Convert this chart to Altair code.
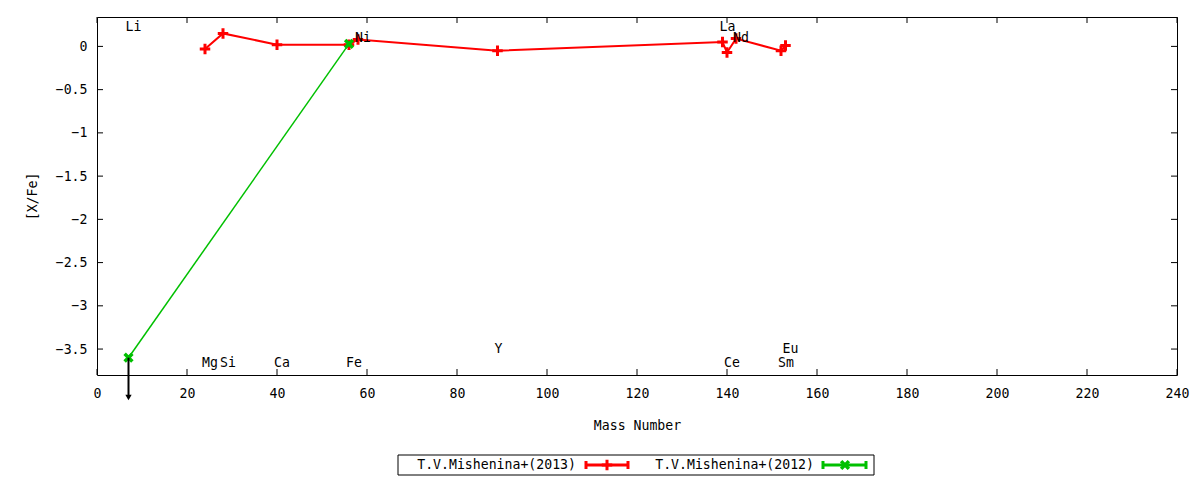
import altair as alt
import pandas as pd

# ---- data ----
mass_2013 = [24, 28, 40, 56, 58, 89, 139, 140, 142, 152, 153]
xfe_2013 = [-0.03, 0.15, 0.02, 0.02, 0.08, -0.05, 0.05, -0.07, 0.09, -0.05, 0.01]
mass_2012 = [7, 56]
xfe_2012 = [-3.6, 0.03]
upper_2012 = [True, False]

elem_names = ["Li", "Mg", "Si", "Ca", "Fe", "Ni", "Y", "La", "Ce", "Nd", "Sm", "Eu"]
elem_mass = [7, 24, 28, 40, 56, 58, 89, 139, 140, 142, 152, 153]
elem_label_y = [0.22, -3.66, -3.66, -3.66, -3.66, 0.10, -3.5, 0.22, -3.66, 0.10, -3.66, -3.5]

x_ticks = [0, 20, 40, 60, 80, 100, 120, 140, 160, 180, 200, 220, 240]
y_ticks = [0, -0.5, -1, -1.5, -2, -2.5, -3, -3.5]

legend_names = ["T.V.Mishenina+(2013)", "T.V.Mishenina+(2012)"]

RED = "#ff0000"
GREEN = "#00c000"
FONT = "DejaVu Sans Mono"
FS = 13.2
W, H = 1080, 358
PLUS = "M-1,0L1,0M0,-1L0,1"
XMARK = "M-1,-1L1,1M-1,1L1,-1"

df13 = pd.DataFrame({"m": mass_2013, "v": xfe_2013, "i": range(len(mass_2013))})
df12 = pd.DataFrame({"m": mass_2012, "v": xfe_2012, "up": upper_2012, "i": range(len(mass_2012))})
dfl = pd.DataFrame({"m": elem_mass, "v": elem_label_y, "name": elem_names})
dfxt = pd.DataFrame({"m": x_ticks})
dfyt = pd.DataFrame({"v": y_ticks})
one = pd.DataFrame({"a": [0]})

xs = alt.Scale(domain=[0, 240], nice=False, zero=False)
ys = alt.Scale(domain=[-3.8, 0.34], nice=False, zero=False)

x_axis = alt.Axis(values=x_ticks, format="d", title="Mass Number",
                  labelPadding=12, labelFlush=False, titleY=50, titleX=W / 2,
                  titleBaseline="middle", titleAlign="center")
y_axis = alt.Axis(values=y_ticks, format="~g", title="[X/Fe]",
                  labelPadding=10, labelFlush=False, titleX=-65, titleY=H / 2,
                  titleBaseline="middle", titleAlign="center")

X = alt.X("m:Q", scale=xs, axis=x_axis)
Y = alt.Y("v:Q", scale=ys, axis=y_axis)

red_line = alt.Chart(df13).mark_line(color=RED, strokeWidth=2).encode(x=X, y=Y, order="i:Q")
red_pts = alt.Chart(df13).mark_point(shape=PLUS, size=110, color=RED, strokeWidth=3, filled=False, opacity=1).encode(x=X, y=Y)
green_line = alt.Chart(df12).mark_line(color=GREEN, strokeWidth=1.5).encode(x=X, y=Y, order="i:Q")
green_pts = alt.Chart(df12).mark_point(shape=XMARK, size=60, color=GREEN, strokeWidth=3.5, filled=False, opacity=1).encode(x=X, y=Y)

arrow = alt.Chart(df12).transform_filter("datum.up").transform_calculate(v2="datum.v - 0.44").mark_rule(
    color="black", strokeWidth=2).encode(x=X, y=Y, y2="v2:Q")
arrow_head = alt.Chart(df12).transform_filter("datum.up").transform_calculate(v="datum.v - 0.46").mark_point(
    shape="triangle-down", size=40, color="black", filled=True, opacity=1).encode(x=X, y=Y)

labels = alt.Chart(dfl).mark_text(align="left", baseline="middle", dx=-3, font=FONT, fontSize=FS,
                                  color="black").encode(x=X, y=Y, text="name:N")

xt_bot = alt.Chart(dfxt).mark_rule(color="black").encode(x=X, y=alt.value(H), y2=alt.value(H - 6))
xt_top = alt.Chart(dfxt).mark_rule(color="black").encode(x=X, y=alt.value(0), y2=alt.value(6))
yt_left = alt.Chart(dfyt).mark_rule(color="black").encode(y=Y, x=alt.value(0), x2=alt.value(6))
yt_right = alt.Chart(dfyt).mark_rule(color="black").encode(y=Y, x=alt.value(W), x2=alt.value(W - 6))

# ---- legend (gnuplot style, drawn below the plot) ----
LY = 448
leg_box = alt.Chart(one).mark_rect(fill="white", stroke="black", strokeWidth=1).encode(
    x=alt.value(301), x2=alt.value(777), y=alt.value(438), y2=alt.value(458))
leg_t1 = alt.Chart(one).mark_text(align="right", baseline="middle", font=FONT, fontSize=FS, color="black").encode(
    x=alt.value(479), y=alt.value(LY), text=alt.value(legend_names[0]))
leg_t2 = alt.Chart(one).mark_text(align="right", baseline="middle", font=FONT, fontSize=FS, color="black").encode(
    x=alt.value(717), y=alt.value(LY), text=alt.value(legend_names[1]))


def sample(x0, x1, xm, color, shape, size, sw):
    line = alt.Chart(one).mark_rule(color=color, strokeWidth=3).encode(
        x=alt.value(x0), x2=alt.value(x1), y=alt.value(LY))
    c1 = alt.Chart(one).mark_rule(color=color, strokeWidth=3).encode(
        x=alt.value(x0), y=alt.value(LY - 4), y2=alt.value(LY + 4))
    c2 = alt.Chart(one).mark_rule(color=color, strokeWidth=3).encode(
        x=alt.value(x1), y=alt.value(LY - 4), y2=alt.value(LY + 4))
    mk = alt.Chart(one).mark_point(shape=shape, size=size, color=color, strokeWidth=sw, filled=False, opacity=1).encode(
        x=alt.value(xm), y=alt.value(LY))
    return [line, c1, c2, mk]


legend_layers = [leg_box, leg_t1, leg_t2] + sample(489, 531, 510, RED, PLUS, 110, 3) + \
    sample(726, 769, 748, GREEN, XMARK, 60, 3.5)

chart = alt.layer(
    red_line, red_pts, green_line, green_pts, arrow, arrow_head, labels,
    xt_bot, xt_top, yt_left, yt_right, *legend_layers
).properties(
    width=W, height=H,
    autosize=alt.AutoSizeParams(type="none"),
    padding={"left": 89, "top": 9, "right": 15, "bottom": 105},
).configure_view(
    stroke="black", strokeWidth=1
).configure_axis(
    grid=False, domain=False, ticks=False, tickSize=0,
    labelFont=FONT, labelFontSize=FS, labelColor="black",
    titleFont=FONT, titleFontSize=FS, titleFontWeight="normal", titleColor="black",
)

chart.save("out.html", embed_options={"renderer": "svg", "actions": False})
